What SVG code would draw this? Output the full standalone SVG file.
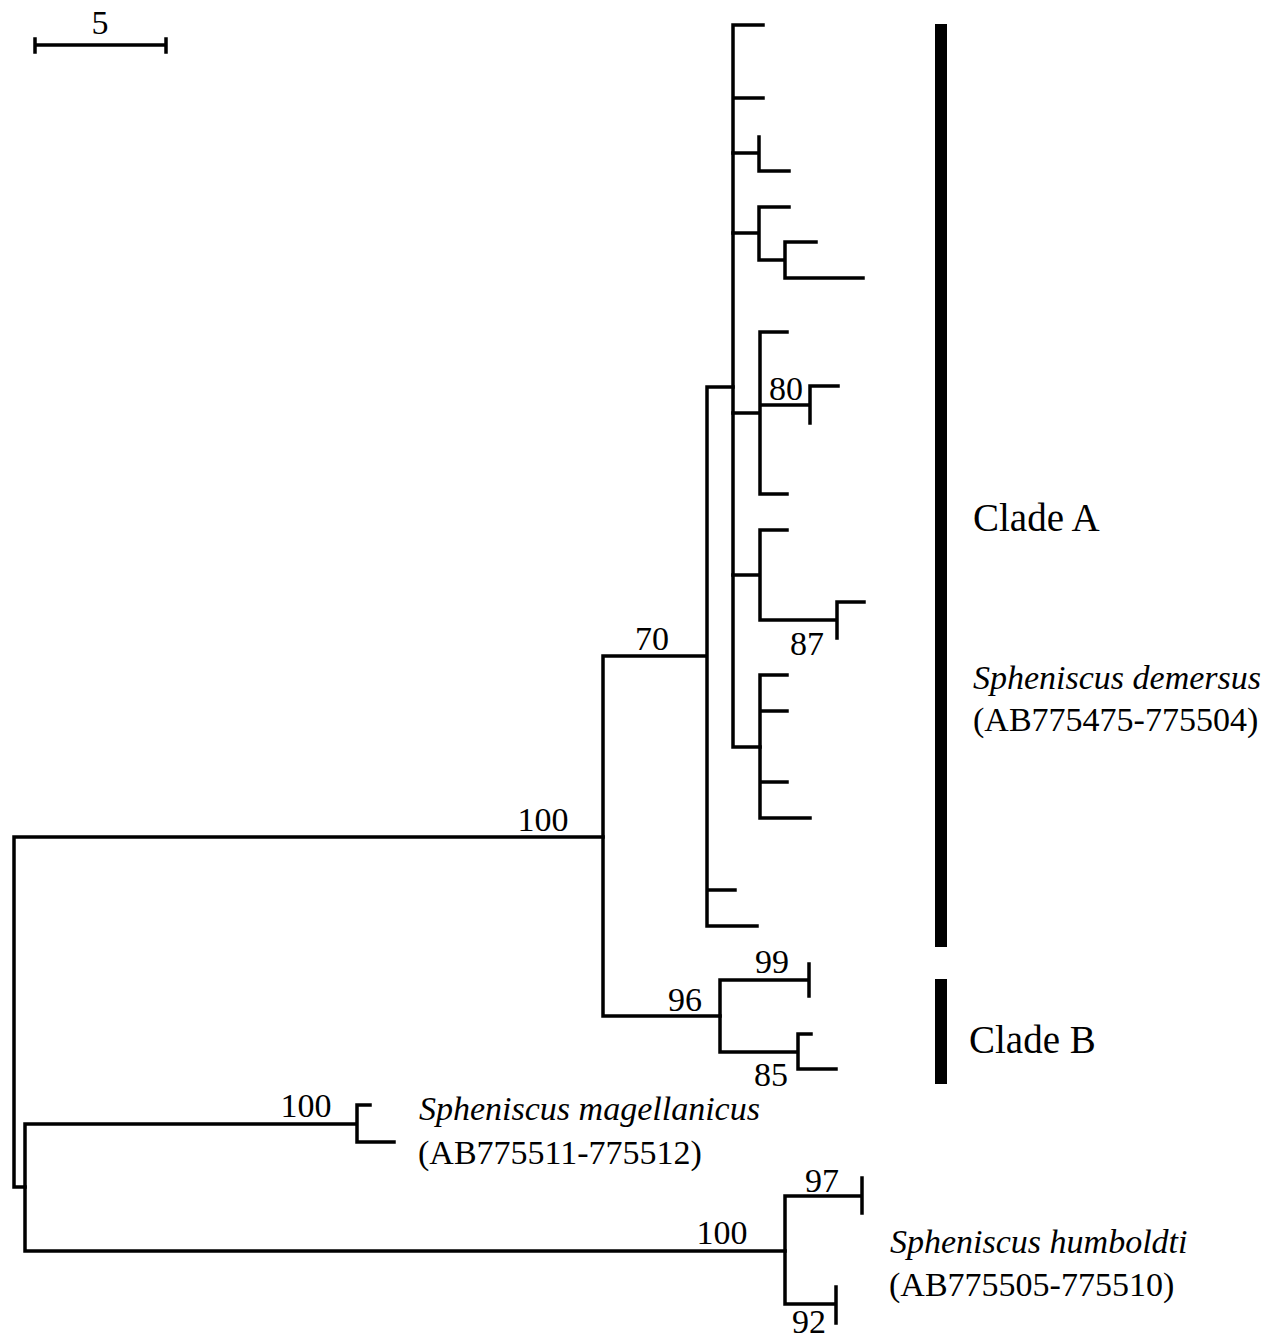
<svg xmlns="http://www.w3.org/2000/svg" width="1285" height="1339" viewBox="0 0 1285 1339">
<style>
.br{fill:none;stroke:#000;stroke-width:3.5;stroke-linejoin:miter;stroke-linecap:square}
.t{font-family:"Liberation Serif","Times New Roman",serif;font-size:34px;fill:#000}
.c{text-anchor:middle}
.i{font-style:italic}
.cl{font-family:"Liberation Serif","Times New Roman",serif;font-size:39px;fill:#000}
</style>
<rect width="1285" height="1339" fill="#fff"/>
<g id="scale">
<path class="br" d="M35,45 H166 M35,39 V52 M166,39 V52" stroke-width="4"/>
<text class="t c" x="100" y="34">5</text>
</g>
<g id="connectors">
<path class="br" d="M603,837 H14 V1187 H25"/>
<path class="br" d="M706,656 H603 V1016 H720"/>
<path class="br" d="M733,387 H707 V926 H757 M707,890 H735"/>
<path class="br" d="M763,25 H733 V747 H760 M733,98 H763"/>
<path class="br" d="M733,153 H759 M759,137 V171 H789"/>
<path class="br" d="M733,233 H759 M789,207 H759 V260 H785 M816,242 H785 V278 H863"/>
<path class="br" d="M733,413 H760 M787,332 H760 V494 H787 M760,405 H810 M810,423 V386 H838"/>
<path class="br" d="M733,575 H760 M787,530 H760 V620 H837 M837,638 V602 H864"/>
<path class="br" d="M787,675 H760 V818 H810 M760,711 H787 M760,782 H787"/>
<path class="br" d="M809,980 H720 V1052 H798 M809,964 V996 M811,1034 H798 V1069 H836"/>
<path class="br" d="M357,1124 H25 V1251 H785 M370,1105 H357 V1142 H394"/>
<path class="br" d="M862,1196 H785 V1304 H836 M862,1178 V1213 M836,1287 V1323"/>
</g>
<g id="support">
<text class="t c" x="543" y="831">100</text>
<text class="t c" x="652" y="650">70</text>
<text class="t c" x="786" y="400">80</text>
<text class="t c" x="807" y="655">87</text>
<text class="t c" x="772" y="973">99</text>
<text class="t c" x="685" y="1011">96</text>
<text class="t c" x="771" y="1086">85</text>
<text class="t c" x="306" y="1117">100</text>
<text class="t c" x="822" y="1192">97</text>
<text class="t c" x="722" y="1244">100</text>
<text class="t c" x="809" y="1333">92</text>
</g>
<g id="cladeA">
<rect x="935" y="24" width="12" height="923" fill="#000"/>
<text class="cl" x="973" y="531">Clade A</text>
<text class="t i" x="973" y="689">Spheniscus demersus</text>
<text class="t" x="973" y="731">(AB775475-775504)</text>
</g>
<g id="cladeB">
<rect x="935" y="979" width="12" height="105" fill="#000"/>
<text class="cl" x="969" y="1053">Clade B</text>
</g>
<g id="magellanicus">
<text class="t i" x="419" y="1120">Spheniscus magellanicus</text>
<text class="t" x="418" y="1164">(AB775511-775512)</text>
</g>
<g id="humboldti">
<text class="t i" x="890" y="1253">Spheniscus humboldti</text>
<text class="t" x="889" y="1296">(AB775505-775510)</text>
</g>
</svg>
